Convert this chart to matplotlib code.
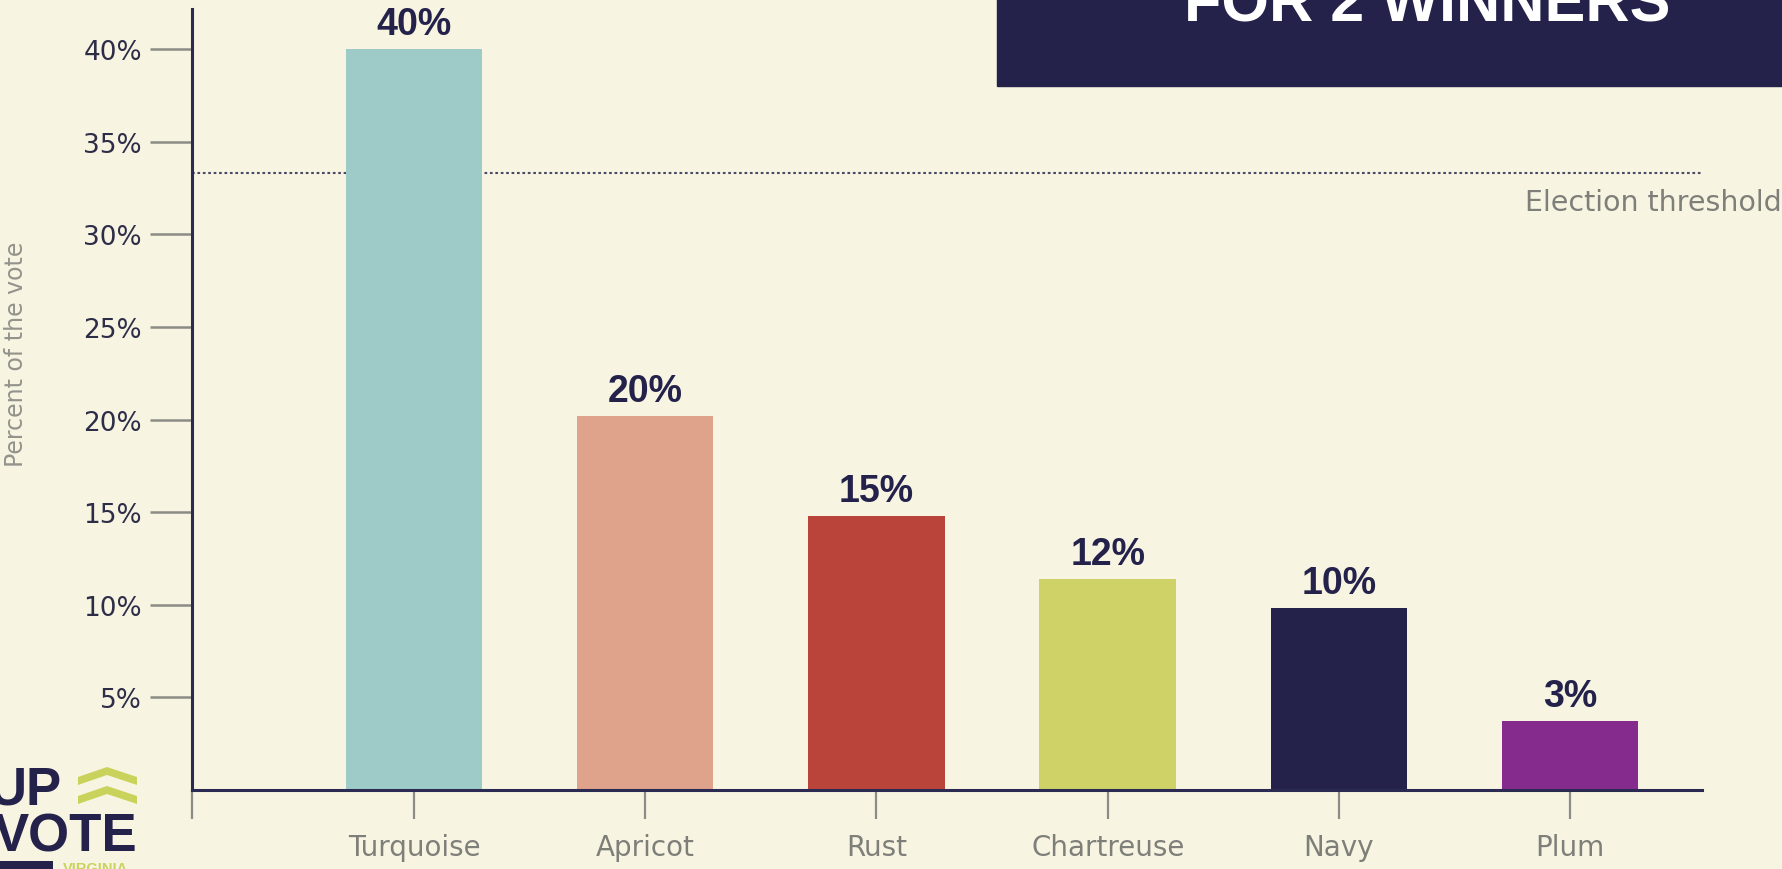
import matplotlib
matplotlib.use('Agg')
import matplotlib.pyplot as plt
from matplotlib.patches import Rectangle, Polygon
from matplotlib import transforms

# Data
candidates = ['Turquoise', 'Apricot', 'Rust', 'Chartreuse', 'Navy', 'Plum']
vote_share = [40.0, 20.2, 14.8, 11.4, 9.8, 3.7]
share_labels = ['40%', '20%', '15%', '12%', '10%', '3%']
bar_colors = ['#9ecac8', '#dfa28a', '#bb443a', '#cfd267', '#24224b', '#862b8e']
threshold = 100 / 3
y_ticks = [5, 10, 15, 20, 25, 30, 35, 40]

bg = '#f7f4e2'
navy = '#24224b'
grey = '#7f7f7a'
W, H = 1783, 870

fig = plt.figure(figsize=(W / 100, H / 100), dpi=100, facecolor=bg)
ax = fig.add_axes([192 / W, 79 / H, 1510 / W, 781 / H])
ax.set_facecolor('none')

xs = list(range(len(candidates)))
ax.bar(xs, vote_share, width=0.59, color=bar_colors, zorder=2)
ax.set_xlim(-0.96, 5.57)
ax.set_ylim(0, 42.16)

for x, v, lab in zip(xs, vote_share, share_labels):
    ax.annotate(lab, xy=(x, v), xytext=(0, 11), textcoords='offset points',
                ha='center', va='baseline', fontsize=27, fontweight='bold',
                color=navy, family='Liberation Sans')

# threshold line + label
ax.axhline(threshold, color='#4a4a66', lw=1.5, ls=(0, (1.3, 1.3)), zorder=1)
ax.annotate('Election threshold', xy=(1.0, threshold),
            xycoords=transforms.blended_transform_factory(fig.transFigure, ax.transData),
            xytext=(-1, -21), textcoords='offset points', ha='right', va='center',
            fontsize=20.5, color=grey, family='DejaVu Sans')

# axes styling
for s in ['top', 'right']:
    ax.spines[s].set_visible(False)
for s in ['left', 'bottom']:
    ax.spines[s].set_color('#2b2a52')
    ax.spines[s].set_linewidth(2.2)

ax.set_yticks(y_ticks)
ax.set_yticklabels(['{}%'.format(t) for t in y_ticks], family='DejaVu Sans',
                   fontsize=19, color='#2e2d48')
ax.tick_params(axis='y', length=30, width=1.8, color='#8c8c86', pad=6)

ax.set_xticks([ax.get_xlim()[0]] + xs)
ax.set_xticklabels([''] + candidates, family='DejaVu Sans', fontsize=20,
                   color=grey)
ax.tick_params(axis='x', length=21, width=1.6, color='#8c8c86', pad=10)

ax.set_ylabel('Percent of the vote', family='DejaVu Sans', fontsize=17,
              color='#93938c', labelpad=0)
ax.yaxis.set_label_coords(-(192 - 28) / 1510, (791 - 354) / 781)

# title box (mostly cut off at the top)
fig.patches.append(Rectangle((997 / W, 1 - 87 / H), 1 - 997 / W, 87 / H,
                             transform=fig.transFigure, color=navy, zorder=1))
fig.text(1427 / W, 1 - 22 / H, 'FOR 2 WINNERS', ha='center', va='baseline',
         fontsize=44, fontweight='bold', color='white', family='Liberation Sans',
         zorder=2)

# logo bottom-left
lax = fig.add_axes([0, 0, 140 / W, 102 / H])
lax.set_xlim(0, 140)
lax.set_ylim(870, 768)
lax.axis('off')
lax.text(62, 805, 'UP', ha='right', va='baseline', fontsize=38,
         fontweight='bold', color=navy, family='Liberation Sans')
lax.text(137, 852, 'VOTE', ha='right', va='baseline', fontsize=38,
         fontweight='bold', color=navy, family='Liberation Sans')
chev = '#c9d35b'
for dy in [0, 19]:
    lax.add_patch(Polygon([(78, 778 + dy), (107, 768 + dy), (137, 778 + dy),
                           (137, 786 + dy), (107, 776 + dy), (78, 786 + dy)],
                          closed=True, color=chev, lw=0))
lax.text(63, 862, 'VIRGINIA', ha='left', va='top', fontsize=10.5,
         fontweight='bold', color=chev, family='Liberation Sans')
lax.add_patch(Rectangle((0, 862), 53, 10, color=navy, lw=0, clip_on=False))

fig.savefig('out.png', dpi=100, facecolor=bg)
